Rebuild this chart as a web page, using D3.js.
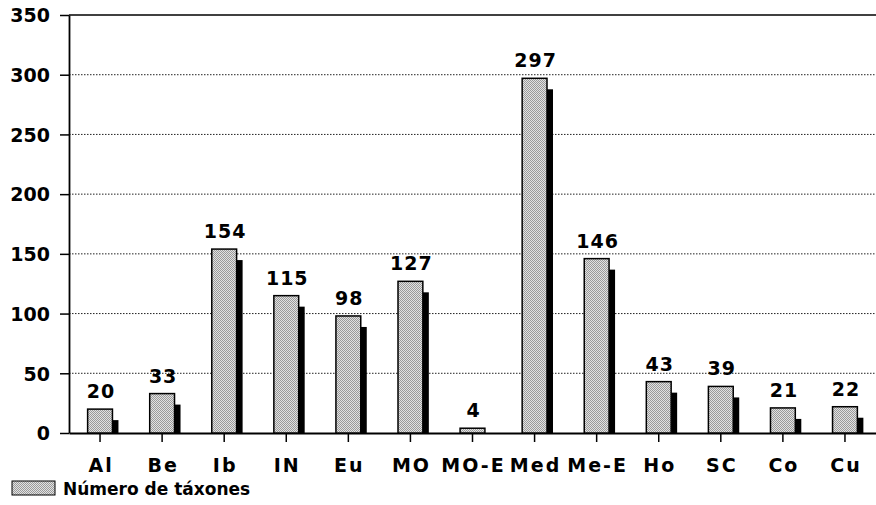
<!DOCTYPE html>
<html>
<head>
<meta charset="utf-8">
<script src="https://cdn.jsdelivr.net/npm/d3@7"></script>
<style>
  body { margin: 0; background: #fff; }
  text { font-family: "DejaVu Sans", sans-serif; font-weight: bold; fill: #000; }
</style>
</head>
<body>
<script>
// data
var categories = ["Al", "Be", "Ib", "IN", "Eu", "MO", "MO-E", "Med", "Me-E", "Ho", "SC", "Co", "Cu"];
var values = [20, 33, 154, 115, 98, 127, 4, 297, 146, 43, 39, 21, 22];
var yTicks = [0, 50, 100, 150, 200, 250, 300, 350];
var seriesName = "Número de táxones";

var full_width = 876, full_height = 505;
var margin = {top: 15, right: 0, bottom: 72, left: 69},
  width = full_width - margin.left - margin.right,
  height = full_height - margin.top - margin.bottom;

var svg = d3.select("body").append("svg")
  .attr("width", full_width)
  .attr("height", full_height);

// stipple fill for the bars
var pat = svg.append("defs").append("pattern")
  .attr("id", "stipple")
  .attr("width", 2).attr("height", 2)
  .attr("patternUnits", "userSpaceOnUse");
pat.append("rect").attr("width", 2).attr("height", 2).attr("fill", "#e2e2e2");
pat.append("rect").attr("x", 0).attr("y", 0).attr("width", 1).attr("height", 1).attr("fill", "#9a9a9a");
pat.append("rect").attr("x", 1).attr("y", 1).attr("width", 1).attr("height", 1).attr("fill", "#9a9a9a");

var g = svg.append("g")
  .attr("transform", "translate(" + margin.left + "," + margin.top + ")");

var x = d3.scaleBand()
  .domain(categories)
  .range([0, width])
  .paddingInner(0.6)
  .paddingOuter(0.3);

var y = d3.scaleLinear()
  .domain([0, 350])
  .range([height, 0]);

// gridlines
g.selectAll(".grid")
  .data(yTicks.filter(function(d) { return d > 0 && d < 350; }))
  .enter().append("line")
  .attr("x1", 0).attr("x2", width)
  .attr("y1", function(d) { return y(d); })
  .attr("y2", function(d) { return y(d); })
  .attr("stroke", "#222")
  .attr("stroke-width", 1)
  .attr("stroke-dasharray", "1.5,1.5");

// top frame line
g.append("line")
  .attr("x1", 0).attr("x2", width)
  .attr("y1", y(350)).attr("y2", y(350))
  .attr("stroke", "#000").attr("stroke-width", 1.5);

// y axis
var y_axis = d3.axisLeft(y).tickValues(yTicks).tickSize(9).tickSizeOuter(0);
var yAxis = g.append("g").call(y_axis);
yAxis.select(".domain").attr("stroke-width", 1.8);
yAxis.selectAll(".tick line").attr("stroke-width", 1.5);
yAxis.selectAll(".tick text")
  .attr("x", -19)
  .attr("dy", "0.36em")
  .style("font-family", "'DejaVu Sans', sans-serif")
  .style("font-weight", "bold")
  .style("font-size", "19px");

// x axis
var x_axis = d3.axisBottom(x).tickSize(9).tickSizeOuter(0);
var xAxis = g.append("g")
  .attr("transform", "translate(0," + height + ")")
  .call(x_axis);
xAxis.select(".domain").attr("stroke-width", 1.8);
xAxis.selectAll(".tick line").attr("stroke-width", 1.5);
xAxis.selectAll(".tick text")
  .attr("y", 0)
  .attr("dy", "39px")
  .attr("dx", "1px")
  .style("font-family", "'DejaVu Sans', sans-serif")
  .style("font-weight", "bold")
  .style("letter-spacing", "2px")
  .style("font-size", "19px");

// shadows
var shadowDx = 6, shadowDy = 11;
g.selectAll(".shadow")
  .data(values)
  .enter().append("rect")
  .attr("fill", "#000")
  .attr("x", function(d, i) { return x(categories[i]) + x.bandwidth(); })
  .attr("width", shadowDx)
  .attr("y", function(d) { return Math.min(y(d) + shadowDy, height); })
  .attr("height", function(d) { return Math.max(0, height - y(d) - shadowDy); });

// bars
g.selectAll(".bar")
  .data(values)
  .enter().append("rect")
  .attr("fill", "url(#stipple)")
  .attr("stroke", "#000")
  .attr("stroke-width", 1.5)
  .attr("x", function(d, i) { return x(categories[i]); })
  .attr("width", x.bandwidth())
  .attr("y", function(d) { return y(d); })
  .attr("height", function(d) { return height - y(d); });

// value labels
g.selectAll(".val")
  .data(values)
  .enter().append("text")
  .attr("text-anchor", "middle")
  .attr("x", function(d, i) { return x(categories[i]) + x.bandwidth() / 2 + 1; })
  .attr("y", function(d) { return y(d) - 11; })
  .style("font-size", "19px")
  .style("letter-spacing", "1px")
  .text(function(d) { return d; });

// legend
svg.append("rect")
  .attr("x", 12).attr("y", 481)
  .attr("width", 43).attr("height", 14)
  .attr("fill", "url(#stipple)")
  .attr("stroke", "#000").attr("stroke-width", 1);
svg.append("text")
  .attr("x", 63).attr("y", 495)
  .style("font-size", "17px")
  .text(seriesName);
</script>
</body>
</html>
